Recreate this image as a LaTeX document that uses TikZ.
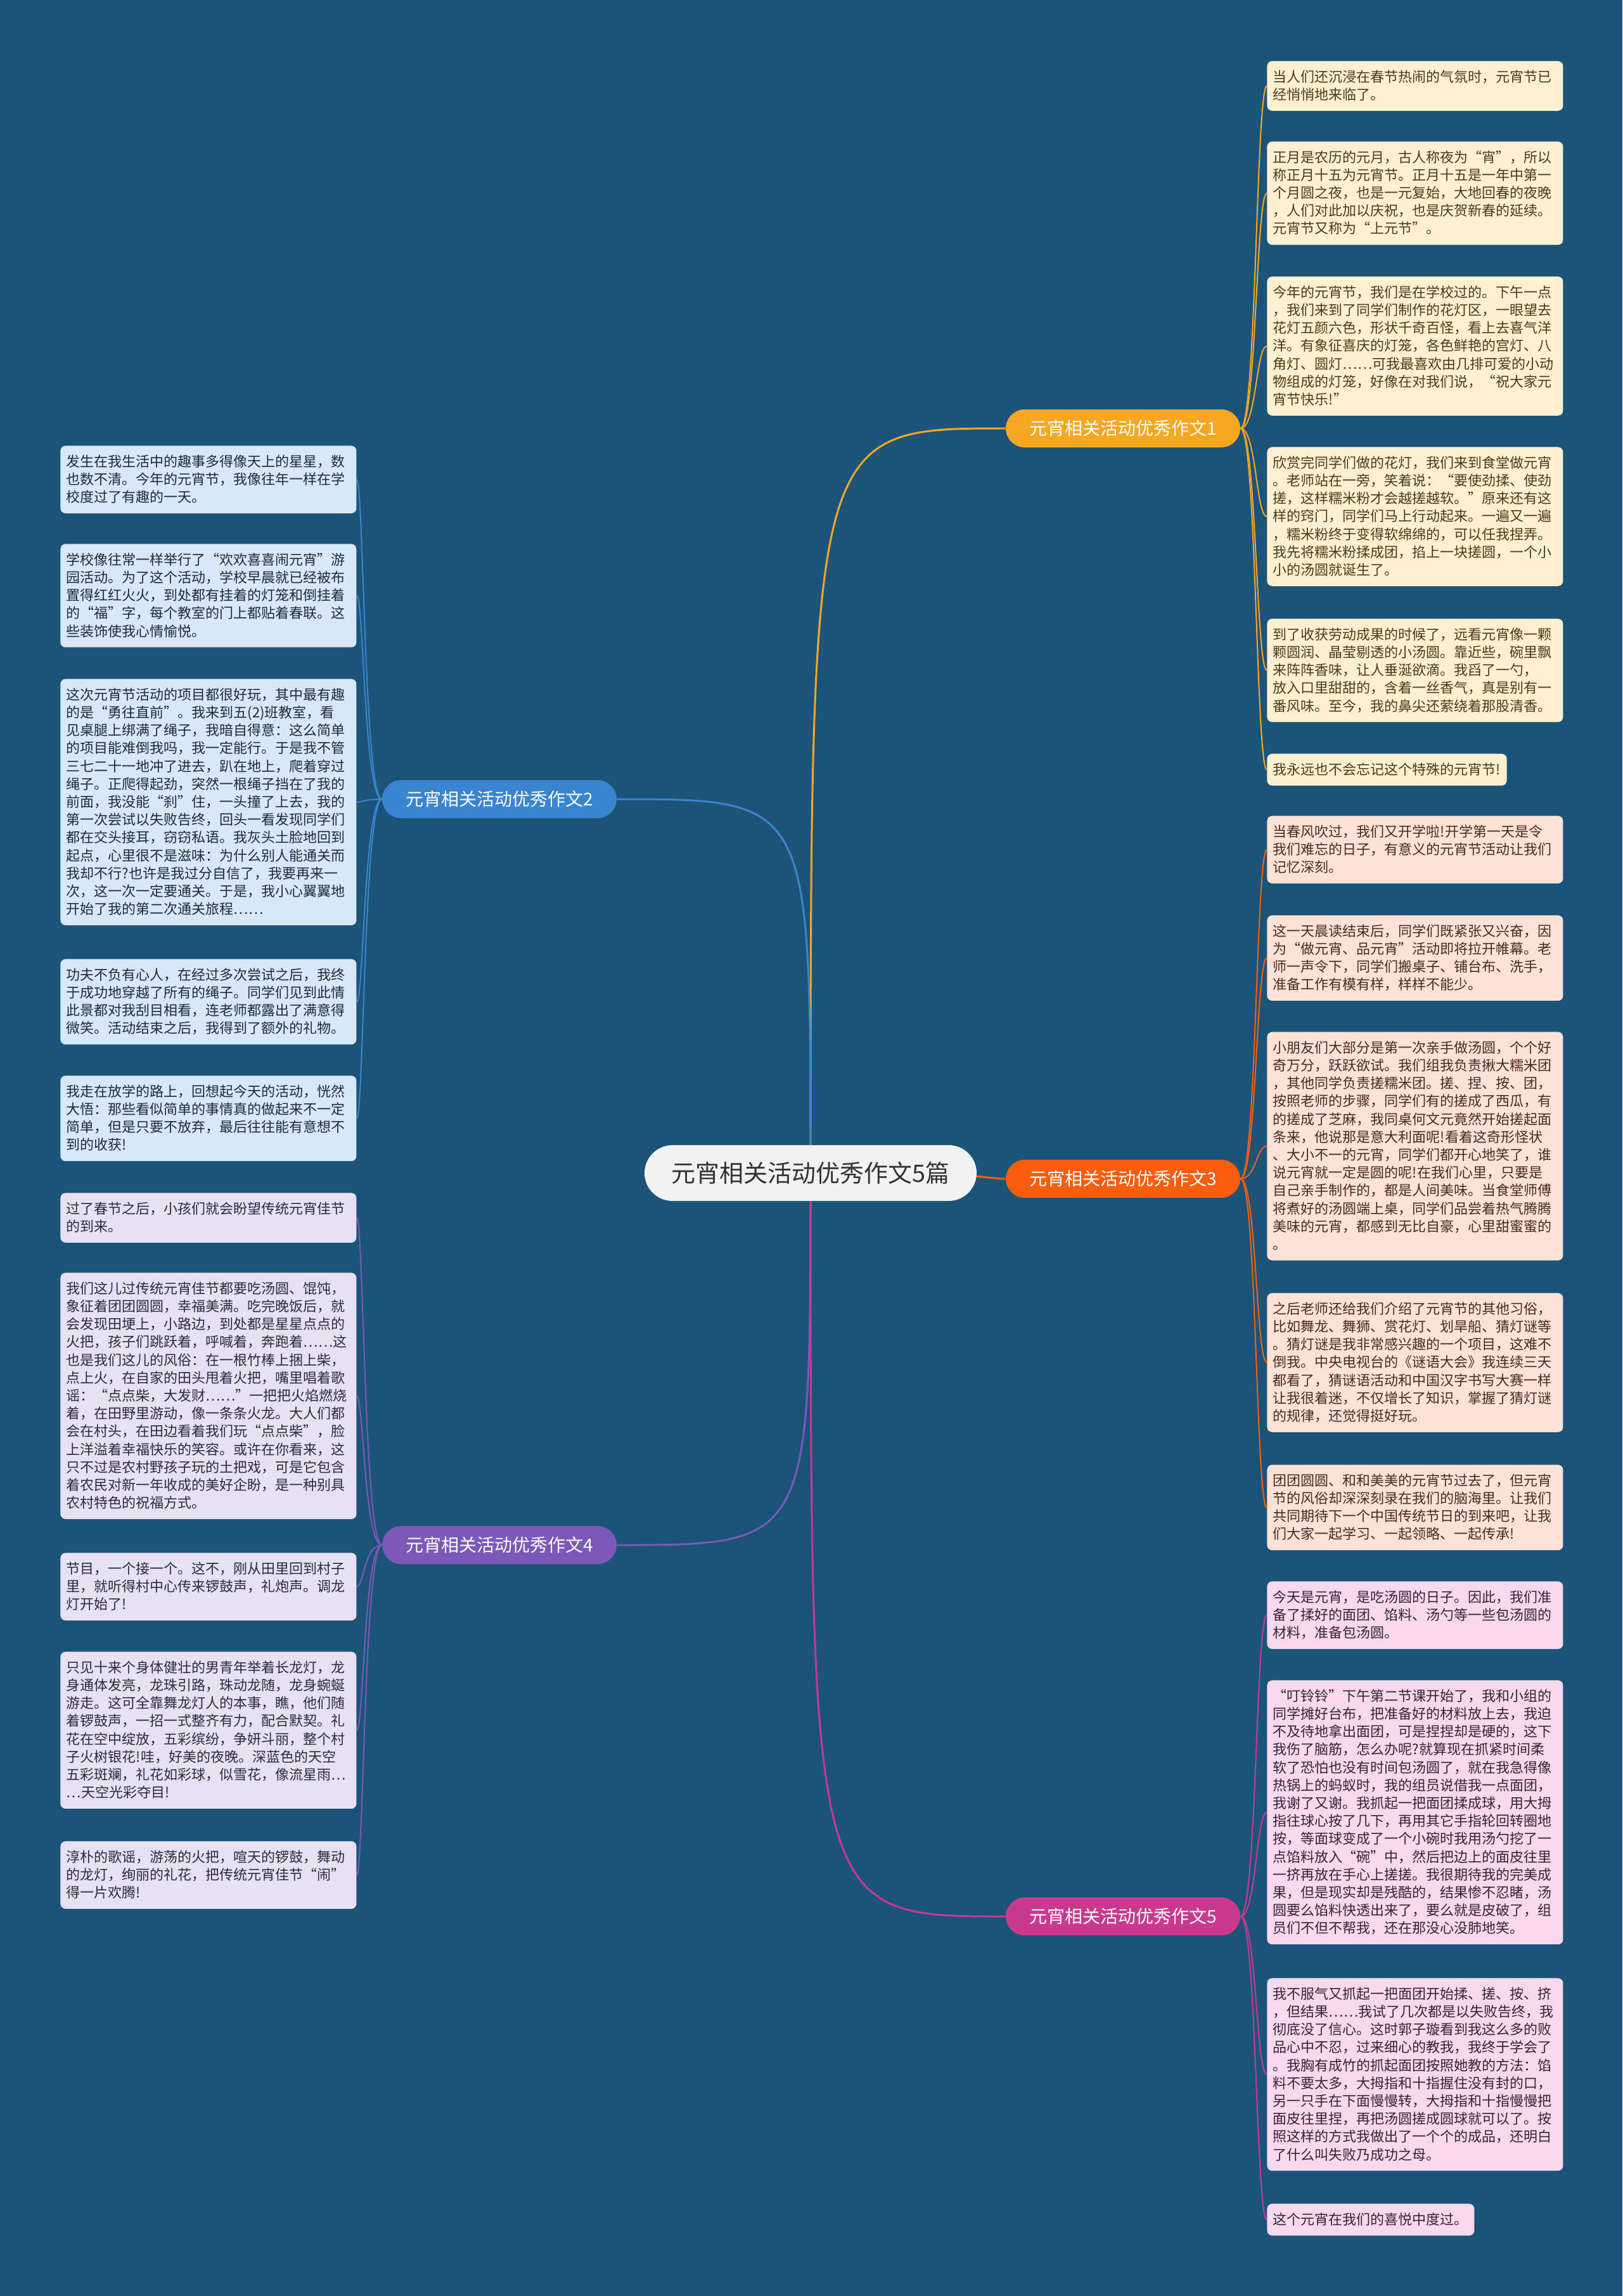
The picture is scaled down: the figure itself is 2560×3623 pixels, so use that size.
\documentclass[tikz,border=0pt]{standalone}
\usepackage{fontspec}
\newfontfamily\cjk{Noto Sans CJK SC}

\definecolor{bgblue}{HTML}{1B5478}
\definecolor{rootgray}{HTML}{F2F2F2}
\definecolor{rootink}{HTML}{333333}
\definecolor{lineA}{HTML}{F5A623}
\definecolor{lineB}{HTML}{3A85CF}
\definecolor{lineC}{HTML}{F95E0C}
\definecolor{lineD}{HTML}{7C58B8}
\definecolor{lineE}{HTML}{C93A8E}
\definecolor{fillA}{HTML}{FEF1D2}
\definecolor{fillB}{HTML}{D8E8F5}
\definecolor{fillC}{HTML}{FDE3D5}
\definecolor{fillD}{HTML}{E6E2F3}
\definecolor{fillE}{HTML}{F7D8EC}
\definecolor{inkA}{HTML}{4E3A14}
\definecolor{inkB}{HTML}{1E2B3A}
\definecolor{inkC}{HTML}{4A2B1B}
\definecolor{inkD}{HTML}{2B2A40}
\definecolor{inkE}{HTML}{3B2038}

\pgfdeclarelayer{back}
\pgfdeclarelayer{lines}
\pgfsetlayers{back,lines,main}

\newcommand\lnstrut{\rule[-3.2pt]{0pt}{14.1pt}}

\begin{document}
\begin{tikzpicture}[x=0.5pt, y=-0.5pt,
  root/.style={fill=rootgray, text=rootink, rounded corners=22pt, minimum width=262pt, minimum height=44pt, inner sep=0pt, font=\cjk\fontsize{19pt}{22pt}\selectfont},
  topic/.style={fill=#1, text=white, rounded corners=15pt, minimum width=185pt, minimum height=30pt, inner sep=0pt, font=\cjk\fontsize{14pt}{16pt}\selectfont},
  leaf/.style 2 args={anchor=north west, fill=#1, text=#2, rounded corners=4pt, align=left, inner xsep=4.75pt, inner ysep=5.5pt, font=\cjk\fontsize{11pt}{14.1pt}\selectfont, execute at begin node=\lnstrut, execute at end node=\lnstrut},
  wide/.style={text width=224pt},
  link/.style={draw=#1, line width=1pt}]
\begin{pgfonlayer}{back}
\fill[bgblue] (0,0) rectangle (2560,3623);
\end{pgfonlayer}
\useasboundingbox (0,0) rectangle (2560,3623);

\node[root] (ctr) at (1279,1851) {元宵相关活动优秀作文5篇};
\node[topic=lineA] (b1) at (1772,676) {元宵相关活动优秀作文1};
\node[topic=lineB] (b2) at (788,1261) {元宵相关活动优秀作文2};
\node[topic=lineC] (b3) at (1772,1860) {元宵相关活动优秀作文3};
\node[topic=lineD] (b4) at (788,2438) {元宵相关活动优秀作文4};
\node[topic=lineE] (b5) at (1772,3024) {元宵相关活动优秀作文5};

% essay 1
\node[leaf={fillA}{inkA}, wide] (a1) at (1999,96) {当人们还沉浸在春节热闹的气氛时，元宵节已\\经悄悄地来临了。};
\node[leaf={fillA}{inkA}, wide] (a2) at (1999,223) {正月是农历的元月，古人称夜为“宵”，所以\\称正月十五为元宵节。正月十五是一年中第一\\个月圆之夜，也是一元复始，大地回春的夜晚\\，人们对此加以庆祝，也是庆贺新春的延续。\\元宵节又称为“上元节”。};
\node[leaf={fillA}{inkA}, wide] (a3) at (1999,436) {今年的元宵节，我们是在学校过的。下午一点\\，我们来到了同学们制作的花灯区，一眼望去\\花灯五颜六色，形状千奇百怪，看上去喜气洋\\洋。有象征喜庆的灯笼，各色鲜艳的宫灯、八\\角灯、圆灯……可我最喜欢由几排可爱的小动\\物组成的灯笼，好像在对我们说，“祝大家元\\宵节快乐!”};
\node[leaf={fillA}{inkA}, wide] (a4) at (1999,705) {欣赏完同学们做的花灯，我们来到食堂做元宵\\。老师站在一旁，笑着说：“要使劲揉、使劲\\搓，这样糯米粉才会越搓越软。”原来还有这\\样的窍门，同学们马上行动起来。一遍又一遍\\，糯米粉终于变得软绵绵的，可以任我捏弄。\\我先将糯米粉揉成团，掐上一块搓圆，一个小\\小的汤圆就诞生了。};
\node[leaf={fillA}{inkA}, wide] (a5) at (1999,976) {到了收获劳动成果的时候了，远看元宵像一颗\\颗圆润、晶莹剔透的小汤圆。靠近些，碗里飘\\来阵阵香味，让人垂涎欲滴。我舀了一勺，\\放入口里甜甜的，含着一丝香气，真是别有一\\番风味。至今，我的鼻尖还萦绕着那股清香。};
\node[leaf={fillA}{inkA}] (a6) at (1999,1189) {我永远也不会忘记这个特殊的元宵节!};

% essay 2
\node[leaf={fillB}{inkB}, wide] (c1) at (95,703) {发生在我生活中的趣事多得像天上的星星，数\\也数不清。今年的元宵节，我像往年一样在学\\校度过了有趣的一天。};
\node[leaf={fillB}{inkB}, wide] (c2) at (95,858) {学校像往常一样举行了“欢欢喜喜闹元宵”游\\园活动。为了这个活动，学校早晨就已经被布\\置得红红火火，到处都有挂着的灯笼和倒挂着\\的“福”字，每个教室的门上都贴着春联。这\\些装饰使我心情愉悦。};
\node[leaf={fillB}{inkB}, wide] (c3) at (95,1071) {这次元宵节活动的项目都很好玩，其中最有趣\\的是“勇往直前”。我来到五(2)班教室，看\\见桌腿上绑满了绳子，我暗自得意：这么简单\\的项目能难倒我吗，我一定能行。于是我不管\\三七二十一地冲了进去，趴在地上，爬着穿过\\绳子。正爬得起劲，突然一根绳子挡在了我的\\前面，我没能“刹”住，一头撞了上去，我的\\第一次尝试以失败告终，回头一看发现同学们\\都在交头接耳，窃窃私语。我灰头土脸地回到\\起点，心里很不是滋味：为什么别人能通关而\\我却不行?也许是我过分自信了，我要再来一\\次，这一次一定要通关。于是，我小心翼翼地\\开始了我的第二次通关旅程……};
\node[leaf={fillB}{inkB}, wide] (c4) at (95,1513) {功夫不负有心人，在经过多次尝试之后，我终\\于成功地穿越了所有的绳子。同学们见到此情\\此景都对我刮目相看，连老师都露出了满意得\\微笑。活动结束之后，我得到了额外的礼物。};
\node[leaf={fillB}{inkB}, wide] (c5) at (95,1697) {我走在放学的路上，回想起今天的活动，恍然\\大悟：那些看似简单的事情真的做起来不一定\\简单，但是只要不放弃，最后往往能有意想不\\到的收获!};

% essay 3
\node[leaf={fillC}{inkC}, wide] (e1) at (1999,1287) {当春风吹过，我们又开学啦!开学第一天是令\\我们难忘的日子，有意义的元宵节活动让我们\\记忆深刻。};
\node[leaf={fillC}{inkC}, wide] (e2) at (1999,1444) {这一天晨读结束后，同学们既紧张又兴奋，因\\为“做元宵、品元宵”活动即将拉开帷幕。老\\师一声令下，同学们搬桌子、铺台布、洗手，\\准备工作有模有样，样样不能少。};
\node[leaf={fillC}{inkC}, wide] (e3) at (1999,1628) {小朋友们大部分是第一次亲手做汤圆，个个好\\奇万分，跃跃欲试。我们组我负责揪大糯米团\\，其他同学负责搓糯米团。搓、捏、按、团，\\按照老师的步骤，同学们有的搓成了西瓜，有\\的搓成了芝麻，我同桌何文元竟然开始搓起面\\条来，他说那是意大利面呢!看着这奇形怪状\\、大小不一的元宵，同学们都开心地笑了，谁\\说元宵就一定是圆的呢!在我们心里，只要是\\自己亲手制作的，都是人间美味。当食堂师傅\\将煮好的汤圆端上桌，同学们品尝着热气腾腾\\美味的元宵，都感到无比自豪，心里甜蜜蜜的\\。};
\node[leaf={fillC}{inkC}, wide] (e4) at (1999,2040) {之后老师还给我们介绍了元宵节的其他习俗，\\比如舞龙、舞狮、赏花灯、划旱船、猜灯谜等\\。猜灯谜是我非常感兴趣的一个项目，这难不\\倒我。中央电视台的《谜语大会》我连续三天\\都看了，猜谜语活动和中国汉字书写大赛一样\\让我很着迷，不仅增长了知识，掌握了猜灯谜\\的规律，还觉得挺好玩。};
\node[leaf={fillC}{inkC}, wide] (e5) at (1999,2311) {团团圆圆、和和美美的元宵节过去了，但元宵\\节的风俗却深深刻录在我们的脑海里。让我们\\共同期待下一个中国传统节日的到来吧，让我\\们大家一起学习、一起领略、一起传承!};

% essay 4
\node[leaf={fillD}{inkD}, wide] (g1) at (95,1882) {过了春节之后，小孩们就会盼望传统元宵佳节\\的到来。};
\node[leaf={fillD}{inkD}, wide] (g2) at (95,2008) {我们这儿过传统元宵佳节都要吃汤圆、馄饨，\\象征着团团圆圆，幸福美满。吃完晚饭后，就\\会发现田埂上，小路边，到处都是星星点点的\\火把，孩子们跳跃着，呼喊着，奔跑着……这\\也是我们这儿的风俗：在一根竹棒上捆上柴，\\点上火，在自家的田头甩着火把，嘴里唱着歌\\谣：“点点柴，大发财……”一把把火焰燃烧\\着，在田野里游动，像一条条火龙。大人们都\\会在村头，在田边看着我们玩“点点柴”，脸\\上洋溢着幸福快乐的笑容。或许在你看来，这\\只不过是农村野孩子玩的土把戏，可是它包含\\着农民对新一年收成的美好企盼，是一种别具\\农村特色的祝福方式。};
\node[leaf={fillD}{inkD}, wide] (g3) at (95,2450) {节目，一个接一个。这不，刚从田里回到村子\\里，就听得村中心传来锣鼓声，礼炮声。调龙\\灯开始了!};
\node[leaf={fillD}{inkD}, wide] (g4) at (95,2606) {只见十来个身体健壮的男青年举着长龙灯，龙\\身通体发亮，龙珠引路，珠动龙随，龙身蜿蜒\\游走。这可全靠舞龙灯人的本事，瞧，他们随\\着锣鼓声，一招一式整齐有力，配合默契。礼\\花在空中绽放，五彩缤纷，争妍斗丽，整个村\\子火树银花!哇，好美的夜晚。深蓝色的天空\\五彩斑斓，礼花如彩球，似雪花，像流星雨…\\…天空光彩夺目!};
\node[leaf={fillD}{inkD}, wide] (g5) at (95,2905) {淳朴的歌谣，游荡的火把，喧天的锣鼓，舞动\\的龙灯，绚丽的礼花，把传统元宵佳节“闹”\\得一片欢腾!};

% essay 5
\node[leaf={fillE}{inkE}, wide] (k1) at (1999,2495) {今天是元宵，是吃汤圆的日子。因此，我们准\\备了揉好的面团、馅料、汤勺等一些包汤圆的\\材料，准备包汤圆。};
\node[leaf={fillE}{inkE}, wide] (k2) at (1999,2651) {“叮铃铃”下午第二节课开始了，我和小组的\\同学摊好台布，把准备好的材料放上去，我迫\\不及待地拿出面团，可是捏捏却是硬的，这下\\我伤了脑筋，怎么办呢?就算现在抓紧时间柔\\软了恐怕也没有时间包汤圆了，就在我急得像\\热锅上的蚂蚁时，我的组员说借我一点面团，\\我谢了又谢。我抓起一把面团揉成球，用大拇\\指往球心按了几下，再用其它手指轮回转圈地\\按，等面球变成了一个小碗时我用汤勺挖了一\\点馅料放入“碗”中，然后把边上的面皮往里\\一挤再放在手心上搓搓。我很期待我的完美成\\果，但是现实却是残酷的，结果惨不忍睹，汤\\圆要么馅料快透出来了，要么就是皮破了，组\\员们不但不帮我，还在那没心没肺地笑。};
\node[leaf={fillE}{inkE}, wide] (k3) at (1999,3121) {我不服气又抓起一把面团开始揉、搓、按、挤\\，但结果……我试了几次都是以失败告终，我\\彻底没了信心。这时郭子璇看到我这么多的败\\品心中不忍，过来细心的教我，我终于学会了\\。我胸有成竹的抓起面团按照她教的方法：馅\\料不要太多，大拇指和十指握住没有封的口，\\另一只手在下面慢慢转，大拇指和十指慢慢把\\面皮往里捏，再把汤圆搓成圆球就可以了。按\\照这样的方式我做出了一个个的成品，还明白\\了什么叫失败乃成功之母。};
\node[leaf={fillE}{inkE}] (k4) at (1999,3477) {这个元宵在我们的喜悦中度过。};

\begin{pgfonlayer}{lines}
% root to topics
\draw[link=lineA, line width=1.5pt] (ctr.center) .. controls (ctr.center |- b1) and (ctr.center |- b1) .. (b1.west);
\draw[link=lineB, line width=1.5pt] (ctr.center) .. controls (ctr.center |- b2) and (ctr.center |- b2) .. (b2.east);
\draw[link=lineC, line width=1.5pt] (ctr.center) .. controls +(280,0) and +(-30,0) .. (b3.west);
\draw[link=lineD, line width=1.5pt] (ctr.center) .. controls (ctr.center |- b4) and (ctr.center |- b4) .. (b4.east);
\draw[link=lineE, line width=1.5pt] (ctr.center) .. controls (ctr.center |- b5) and (ctr.center |- b5) .. (b5.west);
% topics to leaves
\foreach \n in {a1,a2,a3,a4,a5,a6}
  \draw[link=lineA] (b1.east) .. controls +(25,0) and +(-17,0) .. (\n.west);
\foreach \n in {c1,c2,c3,c4,c5}
  \draw[link=lineB] (b2.west) .. controls +(-28,0) and +(11,0) .. (\n.east);
\foreach \n in {e1,e2,e3,e4,e5}
  \draw[link=lineC] (b3.east) .. controls +(25,0) and +(-17,0) .. (\n.west);
\foreach \n in {g1,g2,g3,g4,g5}
  \draw[link=lineD] (b4.west) .. controls +(-28,0) and +(11,0) .. (\n.east);
\foreach \n in {k1,k2,k3,k4}
  \draw[link=lineE] (b5.east) .. controls +(25,0) and +(-17,0) .. (\n.west);
\end{pgfonlayer}
\end{tikzpicture}
\end{document}
